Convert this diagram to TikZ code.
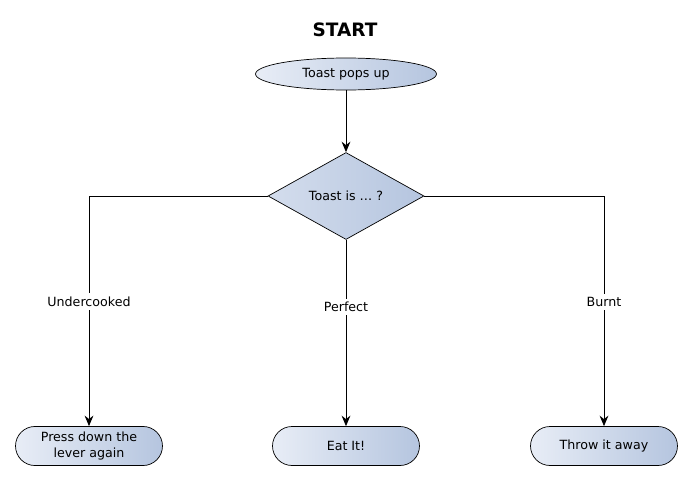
\documentclass[tikz,border=0pt]{standalone}
\usepackage{fontspec}
\setmainfont{DejaVu Sans}
\usetikzlibrary{shapes,arrows,arrows.meta,positioning}
\definecolor{boxlight}{HTML}{E8EDF6}
\definecolor{boxdark}{HTML}{B5C5DF}
\tikzset{%
    startstop/.style={%
        ellipse, draw=black, minimum width=3.62cm, minimum height=0.64cm, inner sep=0pt,
        left color=boxlight, right color=boxdark, font=\fontsize{7.2}{8.6}\selectfont
    },
    decision/.style={%
        diamond, draw=black, minimum width=3.12cm, minimum height=1.74cm, inner sep=0pt,
        aspect=1.8, left color=boxlight!60!boxdark, right color=boxdark, font=\fontsize{7.2}{8.6}\selectfont
    },
    outcome/.style={%
        rectangle, rounded corners=0.39cm, draw=black, minimum width=2.94cm, minimum height=0.78cm,
        left color=boxlight, right color=boxdark, align=center, font=\fontsize{7.2}{8.6}\selectfont
    },
    branch/.style={%
        fill=white, inner sep=2pt, font=\fontsize{7.2}{8.6}\selectfont
    },
    flow/.style={%
        -{Stealth[length=6pt, width=5pt, inset=2pt]}, line width=0.5pt
    },
}
\begin{document}
\begin{tikzpicture}[x=0.02cm, y=-0.02cm]
      \useasboundingbox (0,0) rectangle (693,480);
      \node[font=\bfseries\fontsize{10.5}{12}\selectfont] (start) at (345,30) {START};
      \node[startstop] (pops) at (346,74) {Toast pops up};
      \node[decision] (toast) at (346,196) {Toast is \dots\ ?};

      \node[outcome] (press) at (89,446) {Press down the\\lever again};
      \node[outcome] (eat) at (346,446) {Eat It!};
      \node[outcome] (throw) at (604,446) {Throw it away};

      \draw [flow] (pops) -- (toast);
      \draw [flow] (toast.west) -| (press.north) node[pos=0.73, branch]{Undercooked};
      \draw [flow] (toast.south) -- (eat.north) node[pos=0.36, branch]{Perfect};
      \draw [flow] (toast.east) -| (throw.north) node[pos=0.73, branch]{Burnt};
    \end{tikzpicture}
\end{document}
